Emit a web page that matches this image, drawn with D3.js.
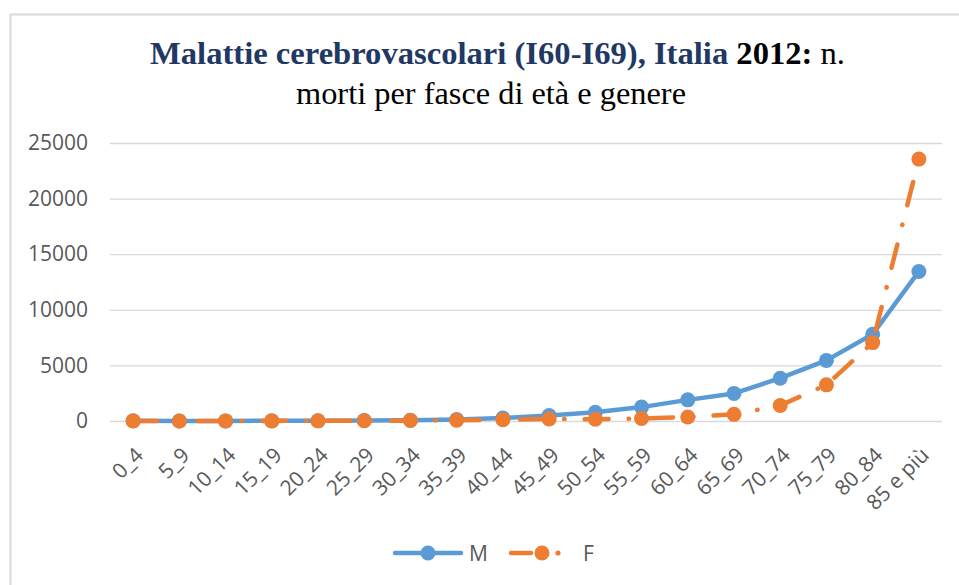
<!DOCTYPE html>
<html>
<head>
<meta charset="utf-8">
<script src="https://cdn.jsdelivr.net/npm/d3@7"></script>
<style>
  body { margin: 0; background: #fff; }
  svg { display: block; }
</style>
</head>
<body>
<svg width="959" height="585"></svg>
<script>
// data
const categories = ['0_4', '5_9', '10_14', '15_19', '20_24', '25_29', '30_34', '35_39', '40_44',
  '45_49', '50_54', '55_59', '60_64', '65_69', '70_74', '75_79', '80_84', '85 e più']
const maschi = [20, 5, 10, 15, 20, 40, 70, 130, 270, 500, 780, 1250, 1900, 2480, 3850, 5450, 7800, 13450]
const femmine = [10, 5, 10, 10, 15, 20, 40, 70, 120, 180, 160, 230, 360, 600, 1400, 3250, 7050, 23550]
const yTicks = [0, 5000, 10000, 15000, 20000, 25000]

const svg = d3.select('svg')
const labelFont = '"Open Sans", sans-serif'
const grey = '#595959'

// chart frame
svg.append('rect')
  .attr('x', 10.5).attr('y', 14.5)
  .attr('width', 980).attr('height', 600)
  .attr('fill', 'none')
  .attr('stroke', '#d9d9d9')
  .attr('stroke-width', 2)

// title
const title = svg.append('g').attr('font-family', '"Liberation Serif", "Times New Roman", serif')
const t1 = title.append('text')
  .attr('x', 150).attr('y', 64)
  .attr('font-size', 31)
  .attr('textLength', 695).attr('lengthAdjust', 'spacingAndGlyphs')
t1.append('tspan').attr('font-weight', 'bold').attr('fill', '#1f3864').text('Malattie cerebrovascolari (I60-I69), Italia ')
t1.append('tspan').attr('font-weight', 'bold').attr('fill', '#000').text('2012:')
t1.append('tspan').attr('fill', '#000').text(' n.')
title.append('text')
  .attr('x', 296).attr('y', 104)
  .attr('font-size', 31)
  .attr('textLength', 390).attr('lengthAdjust', 'spacingAndGlyphs')
  .attr('fill', '#000')
  .text('morti per fasce di età e genere')

// scales
const x = d3.scalePoint().domain(categories).range([110, 942]).padding(0.5)
const y = d3.scaleLinear().domain([0, 25000]).range([421, 143])

// grid + y labels
const yAxis = svg.append('g')
  .attr('transform', 'translate(110,0)')
  .call(d3.axisLeft(y).tickValues(yTicks).tickSize(-832).tickPadding(22).tickFormat(d3.format('d')))
yAxis.select('.domain').remove()
yAxis.selectAll('line').attr('stroke', '#d9d9d9').attr('stroke-width', 1.3)
yAxis.selectAll('text')
  .attr('font-family', labelFont).attr('font-size', 21).attr('fill', grey)

// x labels
svg.append('g').selectAll('text')
  .data(categories)
  .join('text')
  .attr('transform', d => `translate(${x(d) + 1},${446}) rotate(-45)`)
  .attr('text-anchor', 'end')
  .attr('dy', '0.7em')
  .attr('font-family', labelFont).attr('font-size', 21).attr('fill', grey)
  .text(d => d)

const line = d3.line().x((d, i) => x(categories[i])).y(d => y(d))
const series = [
  { name: 'M', values: maschi, color: '#5b9bd5', dash: null },
  { name: 'F', values: femmine, color: '#ed7d31', dash: '24 20 0.5 20' }
]

series.forEach(s => {
  svg.append('path')
    .datum(s.values)
    .attr('d', line)
    .attr('fill', 'none')
    .attr('stroke', s.color)
    .attr('stroke-width', 4.5)
    .attr('stroke-linecap', 'round')
    .attr('stroke-linejoin', 'round')
    .attr('stroke-dasharray', s.dash)
  svg.append('g').selectAll('circle')
    .data(s.values)
    .join('circle')
    .attr('cx', (d, i) => x(categories[i]))
    .attr('cy', d => y(d))
    .attr('r', 7.5)
    .attr('fill', s.color)
})

// legend
const legend = svg.append('g').attr('font-family', labelFont).attr('font-size', 21).attr('fill', grey)
const ly = 553
legend.append('line').attr('x1', 395).attr('x2', 461).attr('y1', ly).attr('y2', ly)
  .attr('stroke', series[0].color).attr('stroke-width', 4.5).attr('stroke-linecap', 'round')
legend.append('circle').attr('cx', 428).attr('cy', ly).attr('r', 7.5).attr('fill', series[0].color)
legend.append('text').attr('x', 469).attr('y', ly).attr('dy', '0.36em').text('M')
legend.append('line').attr('x1', 511).attr('x2', 531).attr('y1', ly).attr('y2', ly)
  .attr('stroke', series[1].color).attr('stroke-width', 4.5).attr('stroke-linecap', 'round')
legend.append('circle').attr('cx', 542).attr('cy', ly).attr('r', 7.5).attr('fill', series[1].color)
legend.append('circle').attr('cx', 558).attr('cy', ly).attr('r', 2.6).attr('fill', series[1].color)
legend.append('text').attr('x', 583).attr('y', ly).attr('dy', '0.36em').text('F')
</script>
</body>
</html>
